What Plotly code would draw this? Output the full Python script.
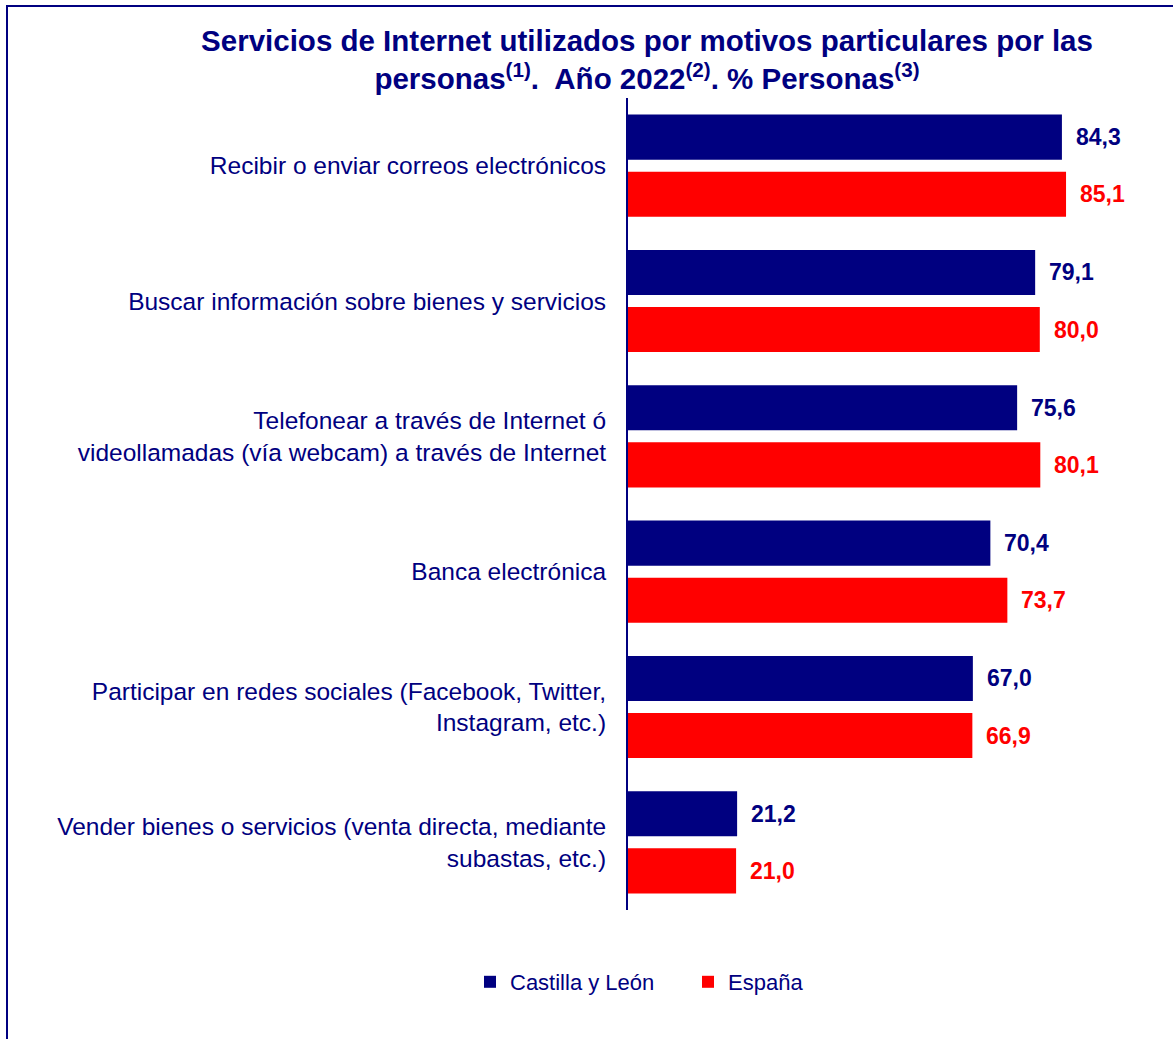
import plotly.graph_objects as go

# --- data ---
categories = [
    "Recibir o enviar correos electrónicos",
    "Buscar información sobre bienes y servicios",
    "Telefonear a través de Internet ó<br>videollamadas (vía webcam) a través de Internet",
    "Banca electrónica",
    "Participar en redes sociales (Facebook, Twitter,<br>Instagram, etc.)",
    "Vender bienes o servicios (venta directa, mediante<br>subastas, etc.)",
]
castilla_leon = [84.3, 79.1, 75.6, 70.4, 67.0, 21.2]
espana = [85.1, 80.0, 80.1, 73.7, 66.9, 21.0]
series_names = ["Castilla y León", "España"]

NAVY = "#000080"
RED = "#ff0000"
FONT = "Liberation Sans, Arial, sans-serif"

W, H = 1173, 1039
M_L, M_R, M_T, M_B = 628, 56, 98, 129
X_MAX = 95

BARGAP = 0.157
GROUPGAP = 0.21

pos = list(range(len(categories)))

fig = go.Figure()
for name, vals, color in [(series_names[0], castilla_leon, NAVY), (series_names[1], espana, RED)]:
    fig.add_trace(go.Bar(
        y=pos, x=vals, orientation="h", name=name,
        marker=dict(color=color, line=dict(width=0)),
    ))

# value labels, placed at the centre of each bar in its group
slot = (1 - BARGAP) / 2
for i, (a, b) in enumerate(zip(castilla_leon, espana)):
    for v, off, color in [(a, -slot / 2, NAVY), (b, slot / 2, RED)]:
        fig.add_annotation(
            x=v, y=i + off, xref="x", yref="y",
            text=f"<b>{v:.1f}</b>".replace(".", ","),
            showarrow=False, xanchor="left", xshift=12,
            font=dict(family=FONT, size=23, color=color),
        )

# helpers: pixel -> paper coords
pw = W - M_L - M_R
ph = H - M_T - M_B
px = lambda p: (p - M_L) / pw
py = lambda p: 1 - (p - M_T) / ph

# outer frame (only left and top edges are visible in the crop)
fig.add_shape(type="line", xref="paper", yref="paper",
              x0=px(6), x1=px(W + 10), y0=py(6), y1=py(6),
              line=dict(color=NAVY, width=2))
fig.add_shape(type="line", xref="paper", yref="paper",
              x0=px(7), x1=px(7), y0=py(5), y1=py(H + 10),
              line=dict(color=NAVY, width=2))

fig.update_layout(
    width=W, height=H,
    margin=dict(l=M_L, r=M_R, t=M_T, b=M_B),
    paper_bgcolor="white", plot_bgcolor="white",
    barmode="group", bargap=BARGAP, bargroupgap=GROUPGAP,
    font=dict(family=FONT, color=NAVY),
    title=dict(
        text="<b>Servicios de Internet utilizados por motivos particulares por las<br>"
             "personas<sup>(1)</sup>.  Año 2022<sup>(2)</sup>. % Personas<sup>(3)</sup></b>",
        x=647 / W, xanchor="center", xref="container",
        y=1 - 51 / H, yanchor="top", yref="container",
        font=dict(family=FONT, size=29.5, color=NAVY),
    ),
    xaxis=dict(range=[0, X_MAX], visible=False, fixedrange=True),
    yaxis=dict(
        tickvals=pos, ticktext=categories, autorange="reversed",
        showline=True, linecolor=NAVY, linewidth=2,
        showgrid=False, zeroline=False, ticks="", ticklabelstandoff=15,
        tickfont=dict(family=FONT, size=24.5, color=NAVY),
    ),
    legend=dict(
        orientation="h",
        x=px(470), xanchor="left", y=py(982), yanchor="middle",
        font=dict(family=FONT, size=22, color=NAVY),
        traceorder="normal", entrywidth=173,
    ),
)

fig.write_html("out.html", config={"displayModeBar": False},
               post_script="document.body.style.margin='0';")
